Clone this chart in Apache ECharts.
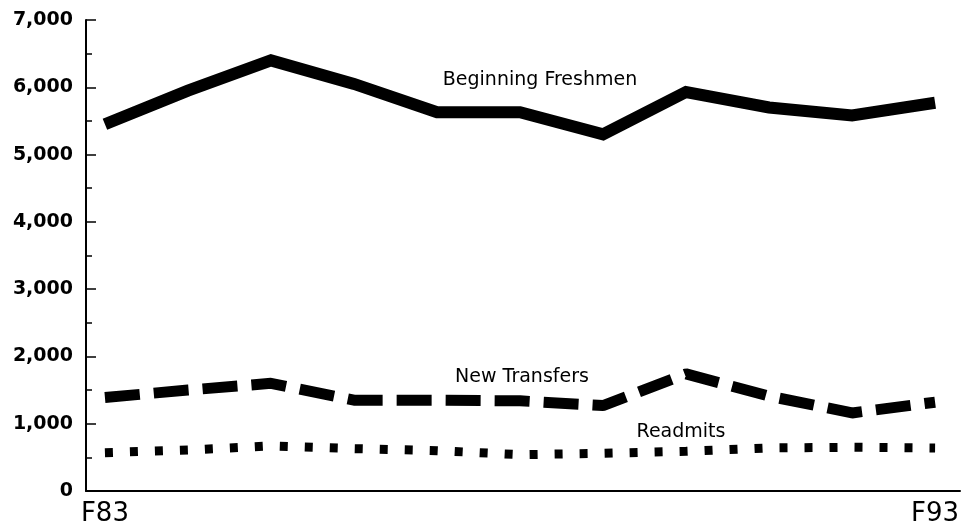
<!DOCTYPE html>
<html>
<head>
<meta charset="utf-8">
<script src="https://cdn.jsdelivr.net/npm/echarts@6/dist/echarts.min.js"></script>
<style>
  html, body { margin: 0; padding: 0; background: #fff; }
  #chart { width: 967px; height: 531px; }
</style>
</head>
<body>
<div id="chart"></div>
<script>
  // fall terms, F83 .. F93
  const years = ['F83', 'F84', 'F85', 'F86', 'F87', 'F88', 'F89', 'F90', 'F91', 'F92', 'F93'];
  const freshmen = [5450, 5950, 6400, 6050, 5630, 5630, 5300, 5930, 5700, 5580, 5770];
  const transfers = [1390, 1500, 1600, 1350, 1350, 1340, 1270, 1740, 1410, 1160, 1320];
  const readmits = [570, 610, 670, 630, 600, 540, 560, 590, 640, 650, 640];
  const yTicks = [0, 1000, 2000, 3000, 4000, 5000, 6000, 7000];

  const toPairs = arr => arr.map((v, i) => [i, v]);
  const fontName = 'DejaVu Sans';
  const ink = '#000';

  // free text labels beside each line
  const note = (text, x, y) => ({
    type: 'text', x: x, y: y,
    style: { text: text, fill: ink, font: '19px "DejaVu Sans"', align: 'center', verticalAlign: 'middle' }
  });

  const chart = echarts.init(document.getElementById('chart'));
  const option = {
    backgroundColor: '#fff',
    animation: false,
    grid: {
      left: 86,
      right: 7,
      top: 20,
      bottom: 40
    },
    xAxis: {
      type: 'value',
      min: -0.228,
      max: 10.3,
      splitLine: { show: false },
      axisTick: { show: false },
      axisLine: {
        onZero: false,
        lineStyle: { color: ink, width: 2 }
      },
      axisLabel: {
        customValues: [0, years.length - 1],
        formatter: v => years[Math.round(v)],
        color: ink,
        fontFamily: fontName,
        fontSize: 26,
        margin: 10
      }
    },
    yAxis: {
      type: 'value',
      min: yTicks[0],
      max: yTicks[yTicks.length - 1],
      interval: 1000,
      splitLine: { show: false },
      axisLine: {
        show: true,
        onZero: false,
        lineStyle: { color: ink, width: 2 }
      },
      axisTick: {
        inside: true,
        length: 10,
        lineStyle: { color: ink, width: 1.5 }
      },
      minorTick: {
        show: true,
        splitNumber: 2,
        length: 6,
        lineStyle: { color: ink, width: 1.5 }
      },
      axisLabel: {
        color: ink,
        fontFamily: fontName,
        fontWeight: 'bold',
        fontSize: 19,
        margin: 13,
        formatter: v => v.toLocaleString('en-US')
      }
    },
    graphic: [
      note('Beginning Freshmen', 540, 80),
      note('New Transfers', 522, 377),
      note('Readmits', 681, 432)
    ],
    series: [
      {
        name: 'Beginning Freshmen',
        type: 'line',
        data: toPairs(freshmen),
        showSymbol: false,
        lineStyle: { color: ink, width: 12, cap: 'butt', join: 'miter' }
      },
      {
        name: 'New Transfers',
        type: 'line',
        data: toPairs(transfers),
        showSymbol: false,
        lineStyle: { color: ink, width: 11, type: [35, 14], cap: 'butt' }
      },
      {
        name: 'Readmits',
        type: 'line',
        data: toPairs(readmits),
        showSymbol: false,
        lineStyle: { color: ink, width: 9, type: [8, 17], cap: 'butt' }
      }
    ]
  };
  chart.setOption(option);
</script>
</body>
</html>
